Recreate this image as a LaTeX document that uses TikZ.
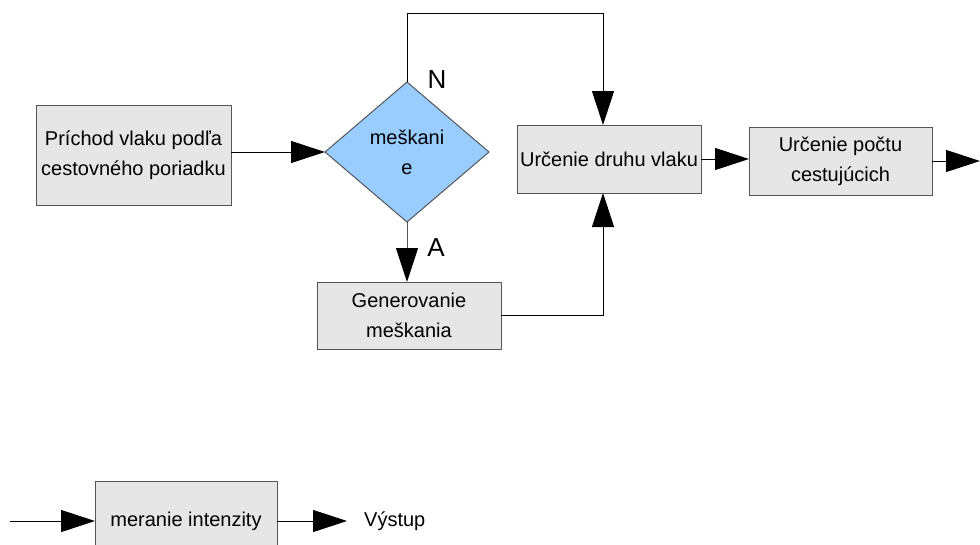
\documentclass[tikz,border=0pt]{standalone}
\usepackage{fontspec}
\setmainfont{Liberation Sans}
\usetikzlibrary{shapes.geometric,arrows.meta}
\definecolor{boxfill}{HTML}{E6E6E6}
\definecolor{boxline}{HTML}{555555}
\definecolor{diafill}{HTML}{99CCFF}
\begin{document}
\begin{tikzpicture}[x=1pt,y=-1pt,
  procbox/.style={draw=boxline,fill=boxfill,line width=1pt,inner sep=0pt,outer sep=0pt,
    align=center,font=\fontsize{20}{30}\selectfont},
  decision/.style={diamond,draw=boxline,fill=diafill,line width=1pt,inner sep=0pt,outer sep=0pt,
    minimum width=164pt,minimum height=140pt,aspect=1.17,align=center,font=\fontsize{20}{30}\selectfont},
  flow/.style={line width=1pt,-{Triangle[length=34pt,width=22pt,color=black,fill=black]}},
  lbl/.style={font=\fontsize{26}{30}\selectfont,inner sep=0pt}
]
\useasboundingbox (0,0) rectangle (980,544);
\node[procbox,minimum width=195pt,minimum height=100pt] (arr) at (133.5,155) {Príchod vlaku podľa\\cestovného poriadku};
\node[decision] (dec) at (407,152) {meškani\\e};
\node[procbox,minimum width=184pt,minimum height=68pt] (druh) at (609,159) {Určenie druhu vlaku};
\node[procbox,minimum width=183pt,minimum height=68pt] (pocet) at (840.5,161) {Určenie počtu\\cestujúcich};
\node[procbox,minimum width=184pt,minimum height=67pt] (gen) at (409,315.5) {Generovanie\\meškania};
\node[procbox,minimum width=182pt,minimum height=80pt] (mer) at (186,521) {meranie intenzity};
\node[lbl] (N) at (437,80) {N};
\node[lbl] (A) at (436,248) {A};
\node[font=\fontsize{20}{30}\selectfont,anchor=west,inner sep=0pt] (vys) at (364,521) {Výstup};
\coordinate (top) at (407,13);
\coordinate (topr) at (603,13);
\coordinate (rend) at (980,161);
\coordinate (lin) at (10,521);
\coordinate (lout) at (347,521);

\draw[flow] (arr.east |- dec.west) -- (dec.west);
\draw[flow] (dec.north) -- (top) -- (topr) -- (topr |- druh.north);
\draw[flow,draw=boxline] (dec.south) -- (dec.south |- gen.north);
\draw[flow] (gen.east) -| (topr |- druh.south);
\draw[flow] (druh.east) -- (druh.east -| pocet.west);
\draw[flow] (pocet.east) -- (rend);
\draw[flow] (lin) -- (mer.west);
\draw[flow] (mer.east) -- (lout);
\end{tikzpicture}
\end{document}
